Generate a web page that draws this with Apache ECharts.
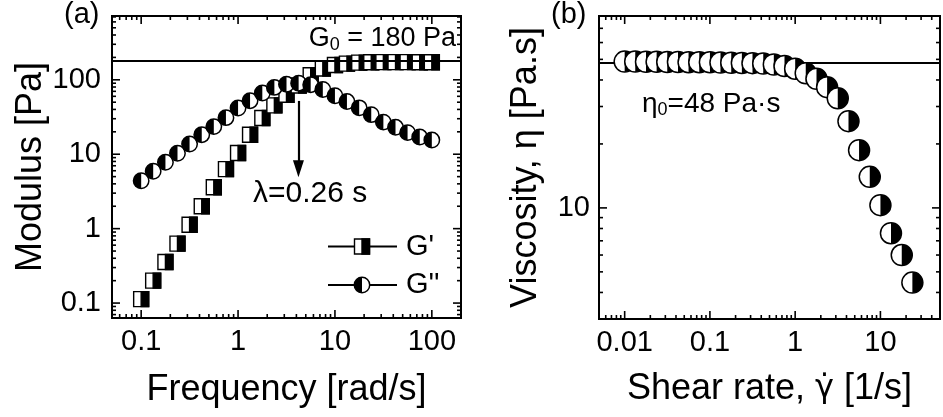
<!DOCTYPE html>
<html><head><meta charset="utf-8">
<script src="https://cdn.jsdelivr.net/npm/echarts@6/dist/echarts.min.js"></script>
<style>html,body{margin:0;padding:0;background:#fff}#c{width:943px;height:417px}</style>
</head><body><div id="c"></div>
<script>
// ---------- Panel (a): oscillatory data ----------
const freq = [0.1, 0.133, 0.178, 0.237, 0.316, 0.422, 0.562, 0.75, 1.0, 1.33, 1.78, 2.37, 3.16, 4.22, 5.62, 7.5, 10, 13.3, 17.8, 23.7, 31.6, 42.2, 56.2, 75, 100];
const gPrime = [0.113, 0.20, 0.356, 0.63, 1.13, 2.0, 3.6, 6.3, 10.4, 18.3, 30.7, 45.3, 63, 84, 115, 142, 158, 165, 170, 172, 173, 173, 173, 172, 172];
const gDouble = [4.4, 5.9, 7.8, 10.3, 13.7, 18.3, 23.5, 31, 41.7, 52.4, 66.5, 79, 87, 90, 86, 74, 61, 51, 42, 34, 27, 23, 19.5, 17, 15.5];
const g0 = 180;
const arrowX = 4.2, arrowFrom = 52, arrowTo = 6.4;

// ---------- Panel (b): flow curve ----------
const shearRate = [0.01, 0.0133, 0.0178, 0.0237, 0.0316, 0.0422, 0.0562, 0.075, 0.1, 0.133, 0.178, 0.237, 0.316, 0.422, 0.562, 0.75, 1.0, 1.33, 1.78, 2.37, 3.16, 4.22, 5.62, 7.5, 10, 13.3, 17.8, 23.7];
const viscosity = [48.8, 48.8, 48.7, 48.7, 48.6, 48.6, 48.5, 48.5, 48.4, 48.3, 48.2, 48.1, 48.0, 47.8, 47.3, 46.5, 45.2, 43, 40.5, 37, 32.8, 25.6, 18.7, 14.0, 10.3, 7.6, 6.0, 4.45];
const eta0 = 48;

// ---------- Axis ticks & labels ----------
const freqTicks = [0.1, 1, 10, 100];
const freqTickLabels = ['0.1', '1', '10', '100'];
const freqMinor = [0.06, 0.07, 0.08, 0.09, 0.2, 0.3, 0.4, 0.5, 0.6, 0.7, 0.8, 0.9, 2, 3, 4, 5, 6, 7, 8, 9, 20, 30, 40, 50, 60, 70, 80, 90];
const modTicks = [0.1, 1, 10, 100];
const modTickLabels = ['0.1', '1', '10', '100'];
const modMinor = [0.07, 0.08, 0.09, 0.2, 0.3, 0.4, 0.5, 0.6, 0.7, 0.8, 0.9, 2, 3, 4, 5, 6, 7, 8, 9, 20, 30, 40, 50, 60, 70, 80, 90, 200, 300, 400, 500, 600, 700];
const rateTicks = [0.01, 0.1, 1, 10];
const rateTickLabels = ['0.01', '0.1', '1', '10'];
const rateMinor = [0.006, 0.007, 0.008, 0.009, 0.02, 0.03, 0.04, 0.05, 0.06, 0.07, 0.08, 0.09, 0.2, 0.3, 0.4, 0.5, 0.6, 0.7, 0.8, 0.9, 2, 3, 4, 5, 6, 7, 8, 9, 20, 30, 40];
const viscTicks = [10];
const viscTickLabels = ['10'];
const viscMinor = [4, 5, 6, 7, 8, 9, 20, 30, 40, 50, 60, 70];

const FONT = '"Liberation Sans", Arial, Helvetica, sans-serif';
const ax = {
  a: { xmin: 0.05, xmax: 200, ymin: 0.063, ymax: 720 },
  b: { xmin: 0.005, xmax: 50, ymin: 3, ymax: 80 }
};

function fmt(vals, labels) {
  return function (v) {
    for (let i = 0; i < vals.length; i++) {
      if (Math.abs(Math.log10(v) - Math.log10(vals[i])) < 1e-6) return labels[i];
    }
    return '';
  };
}

function xTickRender(len, r) {
  return function (params, api) {
    const v = api.value(0);
    const b = api.coord([v, r.ymin]);
    const t = api.coord([v, r.ymax]);
    const st = { stroke: '#000', lineWidth: 1.6 };
    return { type: 'group', children: [
      { type: 'line', shape: { x1: b[0], y1: b[1], x2: b[0], y2: b[1] - len }, style: st },
      { type: 'line', shape: { x1: t[0], y1: t[1], x2: t[0], y2: t[1] + len }, style: st }
    ] };
  };
}
function yTickRender(len, r) {
  return function (params, api) {
    const v = api.value(1);
    const l = api.coord([r.xmin, v]);
    const rr = api.coord([r.xmax, v]);
    const st = { stroke: '#000', lineWidth: 1.6 };
    return { type: 'group', children: [
      { type: 'line', shape: { x1: l[0], y1: l[1], x2: l[0] + len, y2: l[1] }, style: st },
      { type: 'line', shape: { x1: rr[0], y1: rr[1], x2: rr[0] - len, y2: rr[1] }, style: st }
    ] };
  };
}
function halfCircle(r, leftBlack) {
  return function (params, api) {
    const p = api.coord([api.value(0), api.value(1)]);
    return { type: 'group', children: [
      { type: 'circle', shape: { cx: p[0], cy: p[1], r: r }, style: { fill: '#fff' } },
      { type: 'sector', shape: { cx: p[0], cy: p[1], r: r, r0: 0,
          startAngle: leftBlack ? Math.PI / 2 : -Math.PI / 2,
          endAngle: leftBlack ? 3 * Math.PI / 2 : Math.PI / 2, clockwise: true },
        style: { fill: '#000' } },
      { type: 'circle', shape: { cx: p[0], cy: p[1], r: r }, style: { fill: 'none', stroke: '#000', lineWidth: 1.5 } }
    ] };
  };
}
function halfSquare(s) {
  return function (params, api) {
    const p = api.coord([api.value(0), api.value(1)]);
    const h = s / 2;
    return { type: 'group', children: [
      { type: 'rect', shape: { x: p[0] - h, y: p[1] - h, width: s, height: s }, style: { fill: '#fff', stroke: '#000', lineWidth: 1.4 } },
      { type: 'rect', shape: { x: p[0], y: p[1] - h, width: h, height: s }, style: { fill: '#000', stroke: '#000', lineWidth: 1.4 } }
    ] };
  };
}

function tickSeries(values, axisIdx, isX, len, r) {
  return {
    type: 'custom', xAxisIndex: axisIdx, yAxisIndex: axisIdx, z: 1, silent: true,
    renderItem: isX ? xTickRender(len, r) : yTickRender(len, r),
    encode: { x: 0, y: 1 },
    data: values.map(v => isX ? [v, r.ymin] : [r.xmin, v])
  };
}

function logAxis(gridIndex, min, max, vals, labels, name, nameGap, margin, nameStyle) {
  return {
    type: 'log', logBase: 10, gridIndex: gridIndex, min: min, max: max,
    axisLine: { show: false }, axisTick: { show: false }, splitLine: { show: false },
    minorTick: { show: false }, minorSplitLine: { show: false },
    axisLabel: { formatter: fmt(vals, labels), interval: 0, fontSize: 29, color: '#000', fontFamily: FONT, margin: margin },
    name: name, nameLocation: 'middle', nameGap: nameGap,
    nameTextStyle: nameStyle || { fontSize: 36, color: '#000', fontFamily: FONT }
  };
}

const chart = echarts.init(document.getElementById('c'), null, { renderer: 'canvas' });
const option = {
  animation: false,
  backgroundColor: '#fff',
  grid: [
    { left: 112, top: 16, width: 349, height: 302, show: true, borderColor: '#000', borderWidth: 2, backgroundColor: 'transparent' },
    { left: 599, top: 16, width: 349, height: 303, show: true, borderColor: '#000', borderWidth: 2, backgroundColor: 'transparent' }
  ],
  xAxis: [
    logAxis(0, ax.a.xmin, ax.a.xmax, freqTicks, freqTickLabels, 'Frequency [rad/s]', 54, 9),
    logAxis(1, ax.b.xmin, ax.b.xmax, rateTicks, rateTickLabels, '{n|Shear rate, }{g|\u03B3\u0307}{n| [1/s]}', 52, 9, {
      color: '#000', fontSize: 36, fontFamily: FONT,
      rich: { n: { fontSize: 36, fontFamily: FONT, color: '#000' }, g: { fontSize: 32, fontFamily: '"DejaVu Sans", sans-serif', color: '#000' } } })
  ],
  yAxis: [
    logAxis(0, ax.a.ymin, ax.a.ymax, modTicks, modTickLabels, 'Modulus [Pa]', 62, 11),
    logAxis(1, ax.b.ymin, ax.b.ymax, viscTicks, viscTickLabels, 'Viscosity, \u03B7 [Pa.s]', 55, 9)
  ],
  series: [
    tickSeries(freqTicks, 0, true, 8, ax.a),
    tickSeries(freqMinor, 0, true, 4, ax.a),
    tickSeries(modTicks, 0, false, 8, ax.a),
    tickSeries(modMinor, 0, false, 4, ax.a),
    tickSeries(rateTicks, 1, true, 8, ax.b),
    tickSeries(rateMinor, 1, true, 4, ax.b),
    tickSeries(viscTicks, 1, false, 8, ax.b),
    tickSeries(viscMinor, 1, false, 4, ax.b),
    {
      type: 'line', xAxisIndex: 0, yAxisIndex: 0, z: 2, data: [], silent: true,
      markLine: {
        silent: true, animation: false, label: { show: false },
        data: [
          [{ coord: [ax.a.xmin, g0], symbol: 'none' }, { coord: [ax.a.xmax, g0], symbol: 'none' }],
          [{ coord: [arrowX, arrowFrom], symbol: 'none' }, { coord: [arrowX, arrowTo], symbol: 'triangle', symbolSize: [11, 17] }]
        ],
        lineStyle: { color: '#000', width: 2.2, type: 'solid' }
      }
    },
    {
      type: 'line', xAxisIndex: 1, yAxisIndex: 1, z: 2, data: [], silent: true,
      markLine: {
        silent: true, animation: false, symbol: 'none', label: { show: false },
        data: [[{ coord: [ax.b.xmin, eta0] }, { coord: [ax.b.xmax, eta0] }]],
        lineStyle: { color: '#000', width: 2, type: 'solid' }
      }
    },
    {
      name: "G''", type: 'custom', xAxisIndex: 0, yAxisIndex: 0, z: 5,
      renderItem: halfCircle(7.7, true), encode: { x: 0, y: 1 },
      data: freq.map((f, i) => [f, gDouble[i]])
    },
    {
      name: "G'", type: 'custom', xAxisIndex: 0, yAxisIndex: 0, z: 4,
      renderItem: halfSquare(15), encode: { x: 0, y: 1 },
      data: freq.map((f, i) => [f, gPrime[i]])
    },
    {
      name: 'eta', type: 'custom', xAxisIndex: 1, yAxisIndex: 1, z: 5,
      renderItem: halfCircle(10.5, false), encode: { x: 0, y: 1 },
      data: shearRate.map((s, i) => [s, viscosity[i]])
    }
  ],
  graphic: [
    { type: 'text', left: 64, top: 0, style: { text: '(a)', fontSize: 29, fontFamily: FONT, fill: '#000' } },
    { type: 'text', left: 551, top: 0, style: { text: '(b)', fontSize: 29, fontFamily: FONT, fill: '#000' } },
    { type: 'text', x: 456, y: 39, style: {
        text: '{n|G}{s|0}{n| = 180 Pa}', align: 'right', verticalAlign: 'middle', fill: '#000',
        rich: { n: { fontSize: 27, lineHeight: 30, fontFamily: FONT }, s: { fontSize: 18, lineHeight: 14, verticalAlign: 'bottom', fontFamily: FONT } } } },
    { type: 'text', x: 253, y: 194, style: { text: '\u03BB=0.26 s', fontSize: 30, fontFamily: FONT, fill: '#000', verticalAlign: 'middle' } },
    { type: 'text', x: 642, y: 104, style: {
        text: '{n|\u03B7}{s|0}{n|=48 Pa\u00B7s}', align: 'left', verticalAlign: 'middle', fill: '#000',
        rich: { n: { fontSize: 28, lineHeight: 30, fontFamily: FONT }, s: { fontSize: 18, lineHeight: 14, verticalAlign: 'bottom', fontFamily: FONT } } } },
    // legend
    { type: 'line', shape: { x1: 328, y1: 246.5, x2: 397, y2: 246.5 }, style: { stroke: '#000', lineWidth: 2 } },
    { type: 'rect', shape: { x: 354.5, y: 239, width: 15, height: 15 }, style: { fill: '#fff', stroke: '#000', lineWidth: 1.4 } },
    { type: 'rect', shape: { x: 362, y: 239, width: 7.5, height: 15 }, style: { fill: '#000', stroke: '#000', lineWidth: 1.4 } },
    { type: 'text', x: 406, y: 247, style: { text: "G'", fontSize: 29, fontFamily: FONT, fill: '#000', verticalAlign: 'middle' } },
    { type: 'line', shape: { x1: 328, y1: 285, x2: 397, y2: 285 }, style: { stroke: '#000', lineWidth: 2 } },
    { type: 'circle', shape: { cx: 362, cy: 285, r: 7.7 }, style: { fill: '#fff' } },
    { type: 'sector', shape: { cx: 362, cy: 285, r: 7.7, r0: 0, startAngle: Math.PI / 2, endAngle: 3 * Math.PI / 2, clockwise: true }, style: { fill: '#000' } },
    { type: 'circle', shape: { cx: 362, cy: 285, r: 7.7 }, style: { fill: 'none', stroke: '#000', lineWidth: 1.5 } },
    { type: 'text', x: 406, y: 285, style: { text: "G''", fontSize: 29, fontFamily: FONT, fill: '#000', verticalAlign: 'middle' } }
  ]
};
chart.setOption(option);
</script>
</body></html>
